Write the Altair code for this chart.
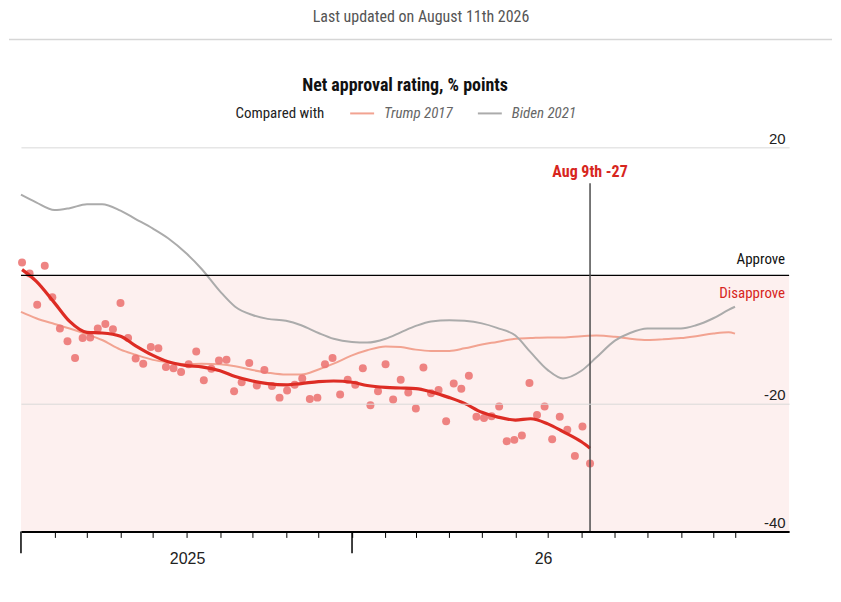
import altair as alt
import pandas as pd

NARROW = "Liberation Sans Narrow, Roboto Condensed, Roboto, sans-serif"
ARIAL = "Liberation Sans, Arial, sans-serif"
RED = "#d7261e"

UPDATED = "Last updated on August 11th 2026"
TITLE = "Net approval rating, % points"

# weekly polls, Trump 2025 (first poll 2025-03-02, last 2026-08-09)
poll_values = [
    2.0, 0.3, -4.6, 1.5, -3.4, -8.3, -10.3, -12.9, -9.8, -9.7,
    -8.3, -7.6, -8.4, -4.3, -9.8, -13.0, -13.8, -11.2, -11.4, -14.3,
    -14.5, -15.1, -13.9, -11.9, -16.4, -14.6, -13.3, -13.2, -18.1, -16.7,
    -13.7, -17.2, -14.8, -17.3, -19.1, -18.0, -17.1, -16.1, -19.3, -19.1,
    -13.9, -12.9, -18.6, -16.3, -17.1, -14.5, -20.3, -18.1, -13.9, -19.4,
    -16.3, -18.3, -20.8, -14.4, -18.4, -17.9, -22.8, -16.9, -17.7, -15.7,
    -22.1, -22.3, -22.0, -20.5, -25.9, -25.7, -25.0, -16.8, -21.8, -20.5,
    -25.6, -22.1, -24.1, -28.2, -23.6, -29.4,
]
poll_dates = pd.date_range("2025-03-02", periods=len(poll_values), freq="7D")

trend_dates = [
    "2025-03-02", "2025-03-15", "2025-04-01", "2025-04-15", "2025-05-01", "2025-05-15",
    "2025-06-01", "2025-06-15", "2025-07-01", "2025-07-15", "2025-08-01", "2025-08-15",
    "2025-09-01", "2025-09-15", "2025-10-01", "2025-10-15", "2025-11-01", "2025-11-15",
    "2025-12-01", "2025-12-15", "2026-01-01", "2026-01-15", "2026-02-01", "2026-02-15",
    "2026-03-01", "2026-03-15", "2026-04-01", "2026-04-15", "2026-05-01", "2026-05-15",
    "2026-06-01", "2026-06-15", "2026-07-01", "2026-07-15", "2026-08-01", "2026-08-09",
]
trend_values = [
    0.9, -0.9, -4.3, -7.2, -8.9, -9.0, -9.5, -11.0, -12.5, -13.5, -14.1, -14.3,
    -14.9, -15.8, -16.5, -16.9, -17.1, -16.9, -16.6, -16.5, -16.7, -17.2, -17.5, -17.6,
    -17.7, -18.2, -19.1, -20.0, -21.4, -22.1, -22.6, -22.4, -23.2, -24.4, -26.0, -27.0,
]

comparison_dates = [
    "2025-03-01", "2025-03-15", "2025-04-01", "2025-04-15", "2025-05-01", "2025-05-15",
    "2025-06-01", "2025-06-15", "2025-07-01", "2025-07-15", "2025-08-01", "2025-08-15",
    "2025-09-01", "2025-09-15", "2025-10-01", "2025-10-15", "2025-11-01", "2025-11-15",
    "2025-12-01", "2025-12-15", "2026-01-01", "2026-01-15", "2026-02-01", "2026-02-15",
    "2026-03-01", "2026-03-15", "2026-04-01", "2026-04-15", "2026-05-01", "2026-05-15",
    "2026-06-01", "2026-06-15", "2026-07-01", "2026-07-15", "2026-08-01", "2026-08-15",
    "2026-09-01", "2026-09-15", "2026-10-01", "2026-10-15", "2026-11-01", "2026-11-15",
    "2026-12-01", "2026-12-15", "2026-12-21",
]
trump_2017 = [
    -5.7, -6.7, -7.6, -8.3, -9.2, -10.1, -11.6, -12.4, -13.2, -13.6, -13.9, -13.8,
    -13.9, -14.2, -14.8, -15.2, -15.5, -15.5, -14.7, -13.8, -12.5, -11.7, -11.1, -11.2,
    -11.6, -11.8, -11.8, -11.4, -10.8, -10.4, -9.9, -9.8, -9.7, -9.7, -9.5, -9.4,
    -9.6, -9.9, -10.1, -10.0, -9.8, -9.5, -9.1, -8.9, -9.1,
]
biden_2021 = [
    12.6, 11.4, 10.2, 10.5, 11.1, 11.1, 10.1, 8.8, 7.3, 5.8, 3.4, 1.0,
    -2.5, -4.9, -6.2, -6.8, -7.1, -7.8, -9.0, -9.9, -10.4, -10.5, -9.9, -8.9,
    -7.9, -7.2, -7.0, -7.1, -7.5, -8.2, -9.4, -12.0, -14.8, -16.1, -14.9, -12.8,
    -10.2, -9.0, -8.3, -8.3, -8.3, -7.8, -6.7, -5.4, -4.9,
]
series_names = ["Trump 2017", "Biden 2021"]
series_colors = ["#f2a391", "#ababab"]

x_domain = ["2025-03-01", "2027-02-09"]
month_ticks = [d.strftime("%Y-%m-%d") for d in pd.date_range("2025-04-01", "2026-12-01", freq="MS")]
month_ticks.append("2026-12-21")
year_breaks = ["2025-03-01", "2026-01-01"]
year_labels = ["2025", "26"]
year_label_dates = ["2025-08-02", "2026-06-27"]
y_ticks = [-40, -20, 20]

W, H = 770, 385


def _dt(s: str) -> alt.DateTime:
    t = pd.Timestamp(s)
    return alt.DateTime(year=t.year, month=t.month, date=t.day)


X_AXIS = alt.Axis(
    values=[_dt(d) for d in month_ticks],
    labels=False,
    grid=False,
    domainColor="black",
    domainWidth=2,
    tickColor="black",
    tickSize=6,
    tickWidth=1,
    title=None,
    zindex=1,
)
Y_AXIS = alt.Axis(
    orient="right",
    values=y_ticks,
    labelExpr="'' + datum.value",
    grid=True,
    gridColor="#d9d9d9",
    gridWidth=1,
    domain=False,
    ticks=False,
    tickSize=0,
    labelAlign="right",
    labelBaseline="alphabetic",
    labelPadding=-4,
    labelOffset=-4,
    labelFont=ARIAL,
    labelFontSize=15,
    labelColor="#222222",
    title=None,
    zindex=1,
)


def x_enc(field: str = "date") -> alt.X:
    return alt.X(
        f"{field}:T",
        scale=alt.Scale(domain=[_dt(d) for d in x_domain]),
        axis=X_AXIS,
        title=None,
    )


def y_enc(field: str = "value") -> alt.Y:
    return alt.Y(f"{field}:Q", scale=alt.Scale(domain=[-40, 20], nice=False), axis=Y_AXIS, title=None)


band_df = pd.DataFrame({
    "date": pd.to_datetime([x_domain[0]]),
    "date_end": pd.to_datetime([x_domain[1]]),
    "value": [0],
    "value_end": [-40],
})
poll_df = pd.DataFrame({"date": poll_dates, "value": poll_values})
trend_df = pd.DataFrame({"date": pd.to_datetime(trend_dates), "value": trend_values})
comp_df = pd.concat([
    pd.DataFrame({"date": pd.to_datetime(comparison_dates), "value": vals, "series": name})
    for name, vals in zip(series_names, [trump_2017, biden_2021])
])
last_date = trend_df["date"].iloc[-1]
last_df = pd.DataFrame({
    "date": [last_date],
    "label": [f"{last_date.strftime('%b')} {last_date.day}th {round(trend_values[-1])}"],
})
breaks_df = pd.DataFrame({"date": pd.to_datetime(year_breaks)})
years_df = pd.DataFrame({"date": pd.to_datetime(year_label_dates), "label": year_labels})

band = alt.Chart(band_df).mark_rect(color="#fdf0ef").encode(
    x=x_enc(), x2="date_end:T", y=y_enc(), y2="value_end:Q"
)
zero_line = alt.Chart(band_df).mark_rule(color="black", strokeWidth=1.3).encode(
    x=x_enc(), x2="date_end:T", y=y_enc()
)
comparison = alt.Chart(comp_df).mark_line(strokeWidth=2, interpolate="monotone").encode(
    x=x_enc(),
    y=y_enc(),
    color=alt.Color(
        "series:N",
        scale=alt.Scale(domain=series_names, range=series_colors),
        legend=alt.Legend(
            title="Compared with",
            orient="none",
            legendX=215,
            legendY=-43,
            direction="horizontal",
            titleOrient="left",
            titleFont=NARROW,
            titleFontSize=15,
            titleFontWeight="normal",
            titleColor="#222222",
            titlePadding=28,
            labelFont=NARROW,
            labelFontSize=15,
            labelFontStyle="italic",
            labelColor="#666666",
            labelOffset=13,
            symbolType="M-1.5,0H1.5",
            symbolSize=256,
            symbolStrokeWidth=2,
            columnPadding=21,
        ),
    ),
)
dots = alt.Chart(poll_df).mark_circle(size=64, color="#ec7372", opacity=0.88).encode(x=x_enc(), y=y_enc())
trend = alt.Chart(trend_df).mark_line(color="#dd2c24", strokeWidth=3.2, interpolate="monotone").encode(
    x=x_enc(), y=y_enc()
)
marker = alt.Chart(last_df).mark_rule(color="#4d4d4d", strokeWidth=1.5).encode(
    x=x_enc(), y=alt.value(36), y2=alt.value(H)
)
marker_label = alt.Chart(last_df).mark_text(
    font=NARROW, fontSize=16, fontWeight="bold", color=RED
).encode(x=x_enc(), y=alt.value(25), text="label:N")
approve = alt.Chart(pd.DataFrame({"label": ["Approve"]})).mark_text(
    font=NARROW, fontSize=15, color="#111111", align="right"
).encode(x=alt.value(W - 4), y=alt.value(112), text="label:N")
disapprove = alt.Chart(pd.DataFrame({"label": ["Disapprove"]})).mark_text(
    font=NARROW, fontSize=15, color=RED, align="right"
).encode(x=alt.value(W - 4), y=alt.value(146), text="label:N")
big_ticks = alt.Chart(breaks_df).mark_rule(color="black", strokeWidth=1.5).encode(
    x=x_enc(), y=alt.value(H), y2=alt.value(H + 22)
)
year_text = alt.Chart(years_df).mark_text(font=ARIAL, fontSize=16, color="#222222").encode(
    x=x_enc(), y=alt.value(H + 28), text="label:N"
)

main = alt.layer(
    band, comparison, dots, trend, zero_line, marker, marker_label,
    approve, disapprove, big_ticks, year_text,
).properties(
    width=W,
    height=H,
    title=alt.TitleParams(
        TITLE, font=NARROW, fontSize=18, fontWeight="bold", color="#111111", anchor="middle", offset=9
    ),
)

header_text = alt.Chart(pd.DataFrame({"t": [UPDATED]})).mark_text(
    font=NARROW, fontSize=16, color="#555555"
).encode(x=alt.value(401), y=alt.value(8), text="t:N")
header_rule = alt.Chart(pd.DataFrame({"t": [UPDATED]})).mark_rule(color="#d6d6d6", strokeWidth=1.5).encode(
    x=alt.value(-12), x2=alt.value(813), y=alt.value(31)
)
header = alt.layer(header_text, header_rule).properties(width=813, height=31)

chart = (
    alt.vconcat(header, main, spacing=37)
    .resolve_legend(color="independent")
    .properties(padding=0)
    .configure_view(strokeWidth=0)
)

chart.save("out.html", embed_options={"renderer": "svg", "actions": False})
